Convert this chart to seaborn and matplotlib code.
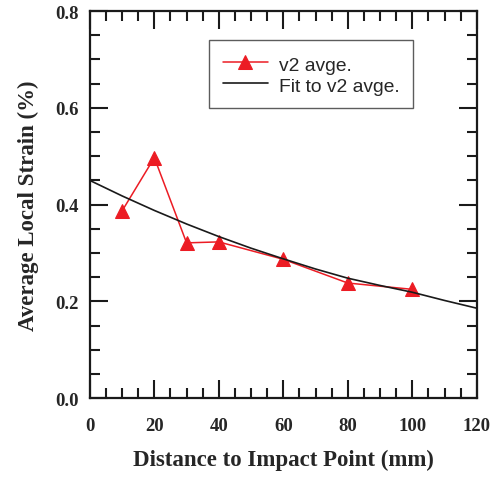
import numpy as np
import pandas as pd
import matplotlib
matplotlib.use("Agg")
import matplotlib.pyplot as plt
import seaborn as sns
from matplotlib.ticker import MultipleLocator

distance = [10, 20, 30, 40, 60, 80, 100]
strain = [0.387, 0.497, 0.321, 0.323, 0.287, 0.238, 0.225]

# fit curve
fit_x = [0, 10, 20, 30, 40, 50, 60, 70, 80, 90, 100, 110, 120]
fit_y = [0.450, 0.418, 0.388, 0.360, 0.334, 0.310, 0.288, 0.267, 0.248,
         0.233, 0.219, 0.202, 0.186]

red = "#ec1c24"

sns.set_theme(style="ticks")
plt.rcParams["font.family"] = ["Liberation Serif", "DejaVu Serif"]

fig = plt.figure(figsize=(4.91, 4.81), dpi=100)
ax = fig.add_axes([0.183, 0.170, 0.788, 0.805])

sns.lineplot(x=distance, y=strain, ax=ax, color=red, marker="^",
             markersize=10, markeredgecolor=red, linewidth=1.1,
             label="v2 avge.")
sns.lineplot(x=fit_x, y=fit_y, ax=ax, color="#1a1a1a", linewidth=1.2,
             label="Fit to v2 avge.")

ax.set_xlim(0, 120)
ax.set_ylim(0, 0.8)
ax.xaxis.set_major_locator(MultipleLocator(20))
ax.xaxis.set_minor_locator(MultipleLocator(5))
ax.yaxis.set_major_locator(MultipleLocator(0.2))
ax.yaxis.set_minor_locator(MultipleLocator(0.05))
ax.yaxis.set_major_formatter(plt.FuncFormatter(lambda v, p: f"{v:.1f}"))

for s in ax.spines.values():
    s.set_visible(True)
    s.set_linewidth(1.6)
    s.set_color("#1a1a1a")

ax.tick_params(which="both", direction="in", top=True, right=True,
               color="#1a1a1a", width=1.5)
ax.tick_params(which="major", length=13)
ax.tick_params(which="minor", length=7)
ax.tick_params(axis="x", which="major", pad=13.5)
ax.tick_params(axis="y", which="major", pad=8)
for lab in ax.get_xticklabels() + ax.get_yticklabels():
    lab.set_fontweight("bold")
    lab.set_fontsize(13.5)

ax.set_xlabel("Distance to Impact Point (mm)", fontsize=16.5,
              fontweight="bold", labelpad=11)
ax.set_ylabel("Average Local Strain (%)", fontsize=16.5,
              fontweight="bold", labelpad=12)

leg = ax.legend(loc="upper left", bbox_to_anchor=(0.307, 0.925),
                prop={"family": "Liberation Sans", "size": 13.9},
                frameon=True, fancybox=False, shadow=False,
                handlelength=2.33, handleheight=1.1, handletextpad=0.57,
                borderpad=0.72, labelspacing=0.05, borderaxespad=0)
leg.get_frame().set_edgecolor("#333333")
leg.get_frame().set_linewidth(1.0)

fig.savefig("out.png", dpi=100)
